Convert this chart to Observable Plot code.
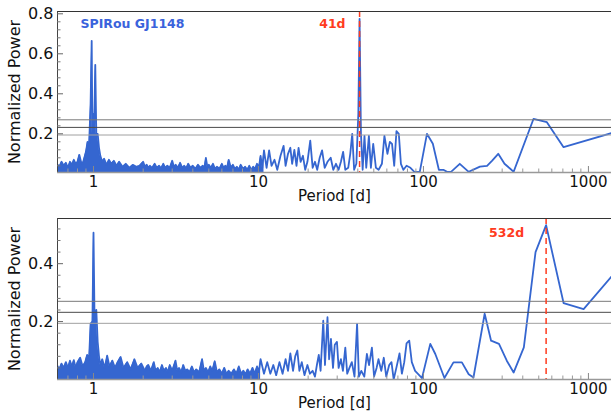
<!DOCTYPE html>
<html><head><meta charset="utf-8">
<script src="https://cdn.jsdelivr.net/npm/d3@7"></script>
<script src="https://cdn.jsdelivr.net/npm/@observablehq/plot@0.6"></script>
<style>
body{margin:0;background:#fff;}
#c{position:relative;width:611px;height:414px;overflow:hidden;}
#c svg{display:block;}
</style>
</head><body><div id="c"></div>
<script>
// ---------- shared axis data ----------
const periodDomain = [0.605, 1380];
const xTickValues = [1, 10, 100, 1000];
const xMinorTicks = [0.7,0.8,0.9,2,3,4,5,6,7,8,9,20,30,40,50,60,70,80,90,200,300,400,500,600,700,800,900];
const thresholds = [0.27, 0.232, 0.194];
const thresholdColors = ["#7a7a7a", "#4a4a4a", "#a0a0a0"];
const titleText = ["SPIRou GJ1148"];
const xLabel = "Period [d]";
const yLabel = "Normalized Power";

// ---------- top panel ----------
const topYDomain = [0.0065, 0.8115];
const topYTicks = [0.2, 0.4, 0.6, 0.8];
const topPeak = [41];
const topPeakLabel = ["41d"];
const topDenseP = [0.6,0.62,0.64,0.66,0.68,0.70,0.72,0.74,0.76,0.78,0.80,0.82,0.84,0.86,0.88,0.90,0.92,0.94,
  0.96,0.975,0.985,0.995,1.01,1.025,1.04,1.06,1.08,1.10,
  1.13,1.16,1.2,1.24,1.28,1.33,1.38,1.43,1.5,1.57,1.65,1.73,1.82,1.9,
  2.0,2.05,2.1,2.15,2.2,2.27,2.35,2.42,2.5,2.57,
  2.65,2.72,2.8,2.9,3.0,3.07,3.15,3.25,3.35,3.45,
  3.55,3.65,3.75,3.87,4.0,4.15,4.3,4.45,4.6,4.7,
  4.8,4.9,5.0,5.15,5.3,5.45,5.6,5.8,6.0,6.15,
  6.3,6.45,6.6,6.8,7.0,7.2,7.4,7.6,7.8,8.05,
  8.3,8.55,8.8,9.05,9.3,9.55,9.8,10.05,10.3,10.55,
  10.8];
const topDenseV = [0.05,0.035,0.06,0.04,0.055,0.03,0.06,0.045,0.07,0.05,0.06,0.095,0.06,0.05,0.08,0.11,0.16,0.14,
  0.35,0.665,0.2,0.3,0.25,0.545,0.2,0.2,0.13,0.09,
  0.06,0.075,0.045,0.07,0.05,0.065,0.04,0.06,0.035,0.05,0.03,0.045,0.035,0.04,
  0.06,0.035,0.045,0.03,0.04,0.03,0.05,0.03,0.04,0.028,
  0.05,0.03,0.04,0.03,0.065,0.035,0.045,0.03,0.055,0.03,
  0.04,0.028,0.05,0.03,0.04,0.025,0.045,0.03,0.04,0.03,
  0.08,0.035,0.045,0.03,0.05,0.025,0.035,0.025,0.05,0.03,
  0.04,0.03,0.07,0.03,0.045,0.025,0.035,0.02,0.045,0.025,
  0.035,0.02,0.04,0.02,0.035,0.025,0.05,0.03,0.09,0.03,
  0.117];
const topP = [11.2,11.6,12.0,12.5,13.0,13.6,14.2,14.6,15.1,15.6,
  16.0,16.5,17.0,17.5,18.0,18.6,19.2,19.8,20.6,21.3,
  22.0,22.7,23.5,24.3,25.2,26.2,27.4,28.4,29.5,30.6,
  31.6,32.6,33.6,35.0,36.0,37.0,38.0,39.2,40.3,41.0,
  41.8,42.8,43.9,45.0,46.7,48.0,49.6,51.5,53.5,56.0,
  58.0,60.5,62.6,64.5,66.5,68.6,70.9,73.0,75.6,79.0,
  83.4,88,95,105,114,124,132,139,147,166,
  188,220,243,261,284,310,336,352,465,560,
  707,1400];
const topV = [0.03,0.117,0.04,0.07,0.02,0.09,0.14,0.04,0.1,0.13,
  0.05,0.12,0.04,0.13,0.06,0.09,0.02,0.06,0.166,0.03,
  0.06,0.02,0.08,0.117,0.03,0.06,0.08,0.02,0.05,0.02,
  0.06,0.11,0.02,0.03,0.1,0.2,0.02,0.05,0.3,0.775,
  0.2,0.02,0.19,0.03,0.19,0.03,0.15,0.03,0.02,0.05,
  0.19,0.1,0.16,0.15,0.04,0.213,0.2,0.05,0.02,0.04,
  0.03,0.01,0.01,0.2,0.15,0.02,0.02,0.01,0.01,0.05,
  0.01,0.036,0.04,0.066,0.1,0.05,0.025,0.01,0.275,0.258,
  0.133,0.205];

// ---------- bottom panel ----------
const botYDomain = [0, 0.556];
const botYTicks = [0.2, 0.4];
const botPeak = [554];
const botPeakLabel = ["532d"];
const botDenseP = [0.6,0.62,0.64,0.66,0.68,0.70,0.72,0.74,0.76,0.78,
  0.80,0.83,0.86,0.89,0.915,0.94,0.96,0.985,1.0,1.015,
  1.04,1.06,1.08,1.1,1.13,1.17,1.21,1.25,1.3,1.35,
  1.4,1.46,1.52,1.6,1.68,1.77,1.85,1.95,
  2.05,2.1,2.15,2.23,2.32,2.38,2.45,2.52,2.6,2.67,
  2.75,2.82,2.9,3.0,3.14,3.22,3.3,3.4,3.5,3.6,
  3.7,3.82,3.95,4.07,4.2,4.37,4.55,4.67,4.8,4.95,
  5.1,5.25,5.43,5.6,5.8,6.0,6.2,6.4,6.6,6.85,
  7.1,7.35,7.6,7.85,8.1,8.35,8.6,8.9,9.2,9.5,
  9.8,10.05,10.3];
const botDenseV = [0.05,0.035,0.055,0.04,0.06,0.04,0.065,0.045,0.067,0.04,
  0.06,0.075,0.045,0.06,0.085,0.07,0.192,0.2,0.507,0.2,
  0.24,0.13,0.08,0.05,0.07,0.04,0.082,0.045,0.065,0.04,
  0.06,0.078,0.04,0.06,0.035,0.07,0.04,0.055,
  0.03,0.045,0.05,0.03,0.06,0.03,0.04,0.025,0.05,0.03,
  0.04,0.025,0.05,0.03,0.065,0.03,0.04,0.025,0.05,0.03,
  0.035,0.025,0.045,0.025,0.035,0.025,0.07,0.03,0.04,0.025,
  0.045,0.03,0.063,0.025,0.035,0.02,0.04,0.02,0.03,0.02,
  0.035,0.02,0.045,0.02,0.03,0.018,0.035,0.02,0.04,0.02,
  0.045,0.025,0.07];
const botP = [10.8,11.3,11.8,12.3,12.8,13.4,14.0,14.6,15.1,15.6,
  16.2,16.7,17.2,17.7,18.3,19.0,19.8,20.5,21.3,22.0,
  22.6,23.2,23.8,24.7,25.3,26.2,26.8,27.5,28.3,29.0,
  29.9,30.6,31.6,32.5,33.6,34.5,35.6,36.8,38.2,39.6,
  40.6,42.0,43.8,45.4,46.8,48.7,50.2,52.0,53.4,55.5,
  57.5,59.5,62.0,64.0,66.0,68.5,71.6,74.0,76.5,79.0,
  82.0,85.0,89.0,98.0,110,118,134,152,171,188,
  201,235,257,287,320,352,406,478,554,707,
  935,1400];
const botV = [0.02,0.06,0.02,0.05,0.015,0.06,0.02,0.07,0.03,0.09,
  0.03,0.08,0.1,0.03,0.06,0.015,0.05,0.02,0.03,0.01,
  0.05,0.085,0.03,0.203,0.05,0.215,0.07,0.14,0.04,0.12,
  0.13,0.04,0.07,0.03,0.11,0.02,0.04,0.06,0.01,0.192,
  0.01,0.03,0.01,0.088,0.05,0.11,0.01,0.04,0.07,0.03,
  0.075,0.01,0.05,0.06,0.0,0.04,0.09,0.02,0.06,0.125,
  0.134,0.06,0.03,0.005,0.123,0.088,0.005,0.059,0.059,0.018,
  0.007,0.227,0.134,0.123,0.065,0.024,0.111,0.44,0.533,0.264,
  0.243,0.36];

// ---------- styles ----------
const BLUE = "#3566d0";
const TITLE_BLUE = "#3a63dc";
const RED = "#ff3b1e";
const FONT = "DejaVu Sans";
const W = 611, H = 207, ML = 57, MR = 0, MT = 11, MB = 35;
const PW = W - ML - MR, PH = H - MT - MB;

function panel(o) {
  const dense = o.denseP.map((p, i) => ({p, v: o.denseV[i]}));
  const all = dense.concat(o.lineP.map((p, i) => ({p, v: o.lineV[i]})));
  const [y0, y1] = o.yDomain;
  const minorY = d3.range(1, 40).map(k => k * 0.04)
    .filter(v => v > y0 && v < y1 && Math.abs(v / 0.2 - Math.round(v / 0.2)) > 1e-6);
  const marks = [
    Plot.areaY(dense, {x: "p", y: "v", fill: BLUE, clip: true}),
    Plot.lineY(all, {x: "p", y: "v", stroke: BLUE, strokeWidth: 1.8, clip: true}),
    Plot.ruleY(thresholds, {y: d => d, stroke: thresholdColors, strokeWidth: 1}),
    Plot.ruleX(o.peak, {x: d => d, stroke: RED, strokeWidth: 1.5, strokeDasharray: "6,4"}),
    Plot.ruleY([y1], {y: d => d, stroke: "#333", strokeWidth: 1}),
    Plot.ruleX([periodDomain[0]], {x: d => d, stroke: "#444", strokeWidth: 1}),
    Plot.ruleY([y0], {y: d => d, stroke: "#999", strokeWidth: 1.5}),
    Plot.tickY(o.yTicks, {y: d => d, stroke: "#666", insetRight: PW - 6}),
    Plot.tickY(minorY, {y: d => d, stroke: "#777", insetRight: PW - 3.5}),
    Plot.tickX(xTickValues, {x: d => d, stroke: "#888", insetTop: PH - 6}),
    Plot.tickX(xMinorTicks, {x: d => d, stroke: "#999", insetTop: PH - 3.5}),
    Plot.axisY(o.yTicks, {tickSize: 0, tickPadding: 4, fontSize: 16, label: null, tickFormat: d => d.toFixed(1)}),
    Plot.axisX(xTickValues, {tickSize: 0, tickPadding: 4, fontSize: 15, label: null, tickFormat: d => String(d)}),
    Plot.text([xLabel], {text: d => d, frameAnchor: "bottom", dy: 24, fontSize: 15, textAnchor: "middle", lineAnchor: "middle", fill: "#111"}),
    Plot.text([yLabel], {text: d => d, frameAnchor: "left", dx: -43, rotate: -90, fontSize: 16, textAnchor: "middle", lineAnchor: "middle", fill: "#111"}),
    Plot.text(o.peak, {x: d => d, text: (d, i) => o.peakLabel[i], frameAnchor: "top", dy: o.labelDy, dx: o.labelDx,
      textAnchor: "end", lineAnchor: "middle", fill: RED, fontWeight: "bold", fontSize: 12.5})
  ];
  if (o.title) {
    marks.push(Plot.text(o.title, {text: d => d, frameAnchor: "top-left", dx: 23, dy: 12, textAnchor: "start",
      lineAnchor: "middle", fill: TITLE_BLUE, fontWeight: "bold", fontSize: 12.5}));
  }
  return Plot.plot({
    width: W, height: H, marginLeft: ML, marginRight: MR, marginTop: MT, marginBottom: MB,
    style: {fontFamily: FONT, background: "white", color: "#111"},
    x: {type: "log", domain: periodDomain, label: null},
    y: {domain: o.yDomain, label: null},
    marks
  });
}

const c = document.getElementById("c");
c.appendChild(panel({denseP: topDenseP, denseV: topDenseV, lineP: topP, lineV: topV,
  yDomain: topYDomain, yTicks: topYTicks, peak: topPeak, peakLabel: topPeakLabel,
  labelDy: 12, labelDx: -14, title: titleText}));
c.appendChild(panel({denseP: botDenseP, denseV: botDenseV, lineP: botP, lineV: botV,
  yDomain: botYDomain, yTicks: botYTicks, peak: botPeak, peakLabel: botPeakLabel,
  labelDy: 14, labelDx: -22, title: null}));
</script>
</body></html>
